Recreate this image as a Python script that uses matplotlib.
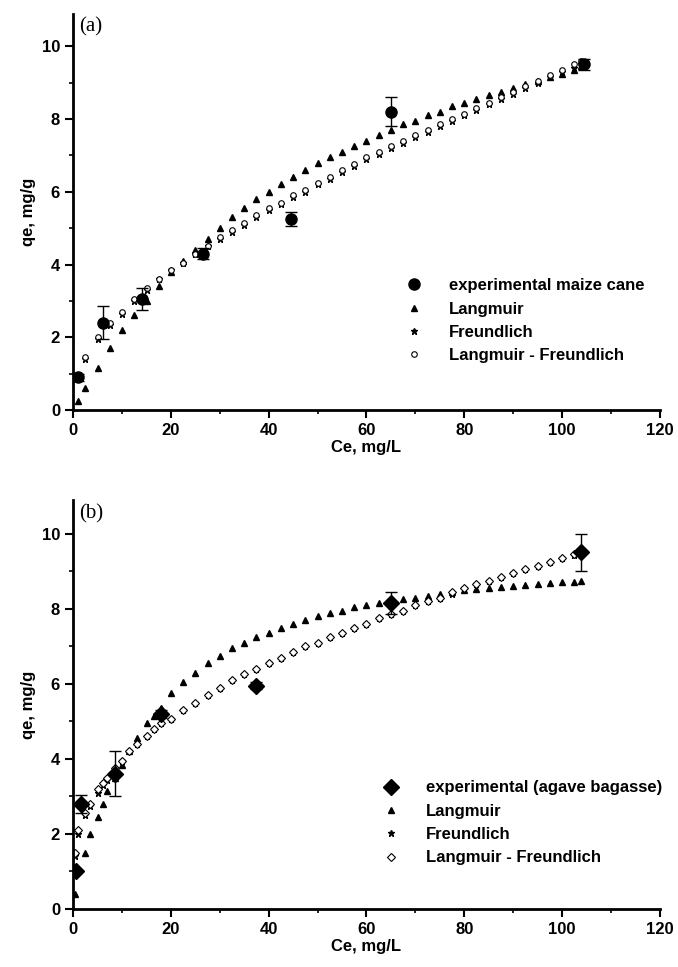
import numpy as np
from matplotlib import pyplot as plt, rcParams
from matplotlib.ticker import MultipleLocator

rcParams['font.family'] = 'Liberation Sans'
rcParams['font.weight'] = 'bold'
rcParams['axes.linewidth'] = 2.0

# Panel (a): maize cane
a_exp_x = [1, 6, 14, 26.5, 44.5, 65, 104.5]
a_exp_y = [0.9, 2.4, 3.05, 4.3, 5.25, 8.2, 9.5]
a_exp_err = [0.1, 0.45, 0.3, 0.15, 0.2, 0.4, 0.15]
a_fit_x = [1, 2.5, 5, 7.5, 10, 12.5, 15, 17.5, 20, 22.5, 25, 27.5, 30, 32.5, 35, 37.5, 40,
           42.5, 45, 47.5, 50, 52.5, 55, 57.5, 60, 62.5, 65, 67.5, 70, 72.5, 75, 77.5, 80,
           82.5, 85, 87.5, 90, 92.5, 95, 97.5, 100, 102.5, 104]
a_lang = [0.25, 0.6, 1.15, 1.7, 2.2, 2.6, 3.0, 3.4, 3.8, 4.1, 4.4, 4.7, 5.0, 5.3, 5.55, 5.8, 6.0,
          6.2, 6.4, 6.6, 6.8, 6.95, 7.1, 7.25, 7.4, 7.55, 7.7, 7.85, 7.95, 8.1, 8.2, 8.35, 8.45,
          8.55, 8.65, 8.75, 8.85, 8.95, 9.05, 9.15, 9.25, 9.35, 9.45]
a_freu = [0.85, 1.4, 1.95, 2.35, 2.65, 3.0, 3.3, 3.6, 3.85, 4.05, 4.3, 4.5, 4.7, 4.9, 5.1, 5.3, 5.5,
          5.65, 5.85, 6.0, 6.2, 6.35, 6.55, 6.7, 6.9, 7.05, 7.2, 7.35, 7.5, 7.65, 7.8, 7.95, 8.1,
          8.25, 8.4, 8.55, 8.7, 8.85, 9.0, 9.15, 9.3, 9.4, 9.5]
a_lf = [0.9, 1.45, 2.0, 2.4, 2.7, 3.05, 3.35, 3.6, 3.85, 4.05, 4.3, 4.5, 4.75, 4.95, 5.15, 5.35, 5.55,
        5.7, 5.9, 6.05, 6.25, 6.4, 6.6, 6.75, 6.95, 7.1, 7.25, 7.4, 7.55, 7.7, 7.85, 8.0, 8.15,
        8.3, 8.45, 8.6, 8.75, 8.9, 9.05, 9.2, 9.35, 9.5, 9.6]

# Panel (b): agave bagasse
b_exp_x = [0.5, 1.5, 8.5, 18, 37.5, 65, 104]
b_exp_y = [1.0, 2.8, 3.6, 5.2, 5.95, 8.15, 9.5]
b_exp_err = [0.05, 0.25, 0.6, 0.1, 0.1, 0.3, 0.5]
b_fit_x = [0.3, 1, 2.5, 3.5, 5, 6, 7, 8.5, 10, 11.5, 13, 15, 16.5, 18, 20, 22.5, 25, 27.5, 30,
           32.5, 35, 37.5, 40, 42.5, 45, 47.5, 50, 52.5, 55, 57.5, 60, 62.5, 65, 67.5, 70,
           72.5, 75, 77.5, 80, 82.5, 85, 87.5, 90, 92.5, 95, 97.5, 100, 102.5, 104]
b_lang = [0.4, 1.0, 1.5, 2.0, 2.45, 2.8, 3.15, 3.5, 3.85, 4.2, 4.55, 4.95, 5.15, 5.35, 5.75, 6.05,
          6.3, 6.55, 6.75, 6.95, 7.1, 7.25, 7.35, 7.5, 7.6, 7.7, 7.8, 7.9, 7.95, 8.05, 8.1, 8.15,
          8.2, 8.25, 8.3, 8.35, 8.4, 8.45, 8.5, 8.52, 8.55, 8.58, 8.6, 8.62, 8.65, 8.68, 8.7,
          8.72, 8.75]
b_freu = [1.4, 2.0, 2.5, 2.75, 3.1, 3.3, 3.45, 3.7, 3.95, 4.2, 4.4, 4.6, 4.8, 4.95, 5.05, 5.3,
          5.5, 5.7, 5.9, 6.1, 6.25, 6.4, 6.55, 6.7, 6.85, 7.0, 7.1, 7.25, 7.35, 7.5, 7.6, 7.75,
          7.85, 7.95, 8.1, 8.2, 8.3, 8.4, 8.55, 8.65, 8.75, 8.85, 8.95, 9.05, 9.15, 9.25, 9.35,
          9.42, 9.48]
b_lf = [1.5, 2.1, 2.55, 2.8, 3.2, 3.35, 3.5, 3.75, 3.95, 4.2, 4.4, 4.6, 4.8, 4.95, 5.05, 5.3,
        5.5, 5.7, 5.9, 6.1, 6.25, 6.4, 6.55, 6.7, 6.85, 7.0, 7.1, 7.25, 7.35, 7.5, 7.6, 7.75,
        7.85, 7.95, 8.1, 8.2, 8.3, 8.45, 8.55, 8.65, 8.75, 8.85, 8.95, 9.05, 9.15, 9.25, 9.35,
        9.45, 9.52]

fig = plt.figure(figsize=(6.78, 9.67), dpi=100)
ax_a = fig.add_axes([0.108, 0.576, 0.865, 0.41])
ax_b = fig.add_axes([0.108, 0.06, 0.865, 0.423])


def style_axes(ax, label):
    ax.spines['top'].set_visible(False)
    ax.spines['right'].set_visible(False)
    ax.set_xlim(0, 120)
    ax.set_ylim(0, 10.9)
    ax.xaxis.set_major_locator(MultipleLocator(20))
    ax.xaxis.set_minor_locator(MultipleLocator(10))
    ax.yaxis.set_major_locator(MultipleLocator(2))
    ax.yaxis.set_minor_locator(MultipleLocator(1))
    ax.tick_params(which='major', direction='out', length=6, width=1.5, labelsize=12)
    ax.tick_params(which='minor', direction='out', length=3, width=1.2)
    ax.set_xlabel("Ce, mg/L", fontsize=12, fontweight='bold', labelpad=1)
    ax.set_ylabel("qe, mg/g", fontsize=12, fontweight='bold')
    ax.text(0.01, 0.99, label, transform=ax.transAxes, va='top', ha='left',
            fontsize=15, family='Liberation Serif', fontweight='normal')


def add_legend(ax, anchor):
    h, l = ax.get_legend_handles_labels()
    ax.legend([h[3][0], h[0], h[1], h[2]], [l[3], l[0], l[1], l[2]], loc='lower right',
              frameon=False, fontsize=12, bbox_to_anchor=anchor, handletextpad=1.5,
              handlelength=1.2)


# panel a
ax_a.plot(a_fit_x, a_lang, 'k^', ms=4, ls='none', label='Langmuir')
ax_a.plot(a_fit_x, a_freu, 'k*', ms=5, ls='none', label='Freundlich')
ax_a.plot(a_fit_x, a_lf, 'o', ms=4, mfc='white', mec='k', mew=0.8, ls='none',
          label='Langmuir - Freundlich')
ax_a.errorbar(a_exp_x, a_exp_y, yerr=a_exp_err, fmt='o', color='k', ms=8, capsize=4,
              elinewidth=1, label='experimental maize cane', zorder=5)
add_legend(ax_a, (1.0, 0.08))
style_axes(ax_a, '(a)')

# panel b
ax_b.plot(b_fit_x, b_lang, 'k^', ms=5, ls='none', label='Langmuir')
ax_b.plot(b_fit_x, b_freu, 'k*', ms=5, ls='none', label='Freundlich')
ax_b.plot(b_fit_x, b_lf, 'D', ms=4, mfc='white', mec='k', mew=0.8, ls='none',
          label='Langmuir - Freundlich')
ax_b.errorbar(b_exp_x, b_exp_y, yerr=b_exp_err, fmt='D', color='k', ms=8, capsize=4,
              elinewidth=1, label='experimental (agave bagasse)', zorder=5)
add_legend(ax_b, (1.03, 0.07))
style_axes(ax_b, '(b)')

fig.savefig('out.png', dpi=100)
